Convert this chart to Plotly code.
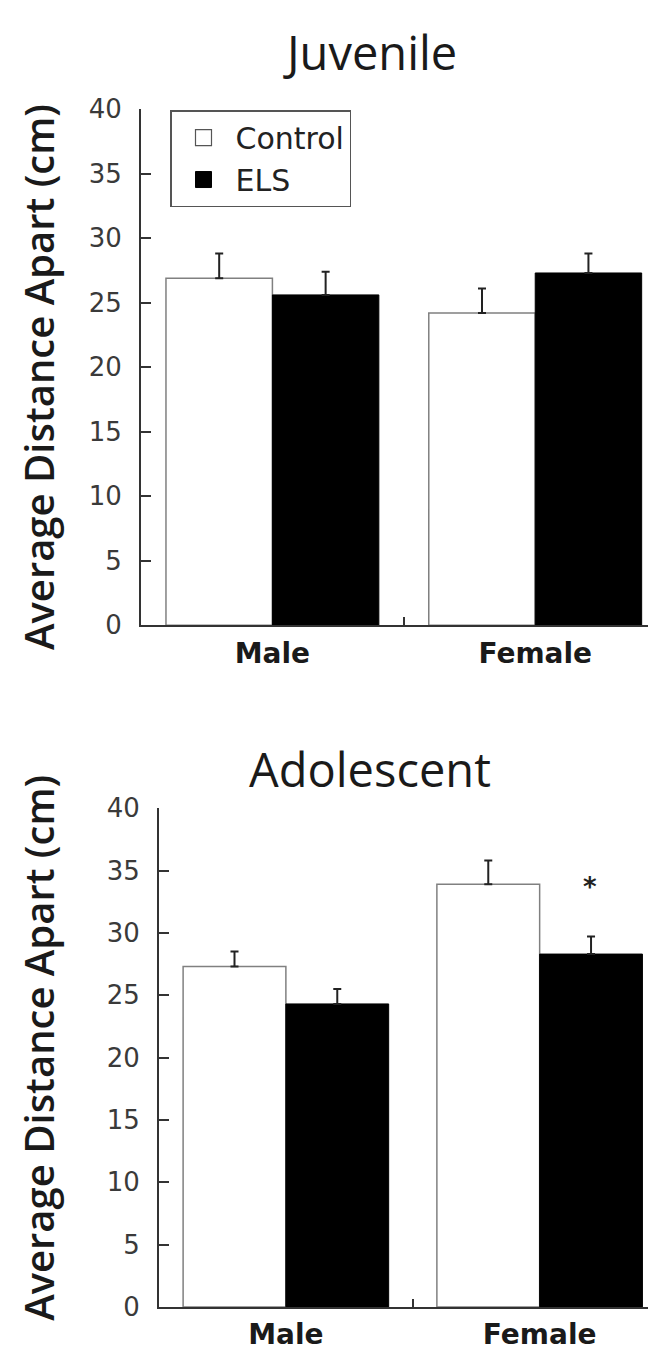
import plotly.graph_objects as go

categories = ["Male", "Female"]
groups = ["Control", "ELS"]

juv_control = [26.9, 24.2]
juv_control_err = [1.9, 1.9]
juv_els = [25.6, 27.3]
juv_els_err = [1.8, 1.5]

ado_control = [27.3, 33.9]
ado_control_err = [1.2, 1.9]
ado_els = [24.3, 28.3]
ado_els_err = [1.2, 1.4]

# significance marker (ELS vs Control, adolescent females)
ado_sig = ["", "*"]

y_ticks = [0, 5, 10, 15, 20, 25, 30, 35, 40]
panel_titles = ["Juvenile", "Adolescent"]
y_title = "Average Distance Apart (cm)"

W, H = 656, 1353
AX = "#333333"

fig = go.Figure()

def add_panel(xa, ya, ctrl, ctrl_err, els, els_err):
    fig.add_trace(go.Bar(
        x=categories, y=ctrl, name=groups[0], xaxis=xa, yaxis=ya,
        marker=dict(color="white", line=dict(color="#808080", width=1.5)),
        error_y=dict(type="data", symmetric=False, array=ctrl_err,
                     arrayminus=[0] * len(ctrl), color="#222222", thickness=2, width=4),
        showlegend=False))
    fig.add_trace(go.Bar(
        x=categories, y=els, name=groups[1], xaxis=xa, yaxis=ya,
        marker=dict(color="black", line=dict(color="black", width=1)),
        error_y=dict(type="data", symmetric=False, array=els_err,
                     arrayminus=[0] * len(els), color="#222222", thickness=2, width=4),
        showlegend=False))

add_panel("x", "y", juv_control, juv_control_err, juv_els, juv_els_err)
add_panel("x2", "y2", ado_control, ado_control_err, ado_els, ado_els_err)

# legend proxies
fig.add_trace(go.Scatter(x=[None], y=[None], mode="markers", name=groups[0],
                         marker=dict(symbol="square", size=16, color="white",
                                     line=dict(color="#555555", width=1.2)),
                         xaxis="x", yaxis="y"))
fig.add_trace(go.Scatter(x=[None], y=[None], mode="markers", name=groups[1],
                         marker=dict(symbol="square", size=16, color="black",
                                     line=dict(color="black", width=1)),
                         xaxis="x", yaxis="y"))

# significance stars
for i, s in enumerate(ado_sig):
    if s:
        fig.add_annotation(x=i + 0.2, y=ado_els[i] + ado_els_err[i] + 4.0, xref="x2", yref="y2",
                           text=s, showarrow=False, yanchor="middle",
                           font=dict(family="DejaVu Sans", size=26, color="#222222", weight="bold"))

def yaxis_cfg(dom):
    return dict(domain=dom, range=[0, 40], tickvals=y_ticks, ticks="inside", ticklen=10,
                tickwidth=2, tickcolor=AX, showline=True, linecolor=AX, linewidth=2,
                showgrid=False, zeroline=False, ticklabelstandoff=12,
                tickfont=dict(family="DejaVu Sans", size=26, color="#3a3a3a"))

def xaxis_cfg(dom, rng, anchor):
    return dict(domain=dom, range=rng, type="category", tickson="boundaries",
                ticks="inside", ticklen=8, tickwidth=2, tickcolor=AX,
                showline=True, linecolor=AX, linewidth=2, showgrid=False, zeroline=False,
                anchor=anchor, ticklabelstandoff=2,
                tickfont=dict(family="DejaVu Sans", size=28, color="#1a1a1a", weight="bold"))

fig.update_layout(
    width=W, height=H, margin=dict(l=0, r=0, t=0, b=0),
    paper_bgcolor="white", plot_bgcolor="white",
    barmode="group", bargap=0.19, bargroupgap=0,
    xaxis=xaxis_cfg([133 / W, 1], [-0.5, 1.49], "y"),
    yaxis=yaxis_cfg([1 - 616 / H, 1 - 88 / H]),
    xaxis2=xaxis_cfg([151 / W, 1], [-0.5, 1.49], "y2"),
    yaxis2=dict(yaxis_cfg([1 - 1313 / H, 1 - 803 / H]), anchor="x2"),
    showlegend=True,
    legend=dict(x=162 / W, y=1 - 89 / H, xanchor="left", yanchor="top",
                bordercolor="#555555", borderwidth=1.5, bgcolor="white",
                itemwidth=54, tracegroupgap=0,
                font=dict(family="DejaVu Sans", size=30, color="#222222")),
)
fig.update_layout(yaxis2_anchor="x2", xaxis2_anchor="y2")

# panel titles
for ttl, yc in zip(panel_titles, [30, 763]):
    fig.add_annotation(x=362 / W, y=1 - yc / H, xref="paper", yref="paper", text=ttl,
                       showarrow=False, xanchor="center", yanchor="middle",
                       font=dict(family="Open Sans", size=47, color="#1a1a1a"))

# y-axis titles
for yc in [362, 1048]:
    fig.add_annotation(x=31 / W, y=1 - yc / H, xref="paper", yref="paper", text=y_title,
                       textangle=-90, showarrow=False, xanchor="center", yanchor="middle",
                       font=dict(family="Open Sans", size=40, color="#1a1a1a", weight=600))

fig.write_html("out.html")
